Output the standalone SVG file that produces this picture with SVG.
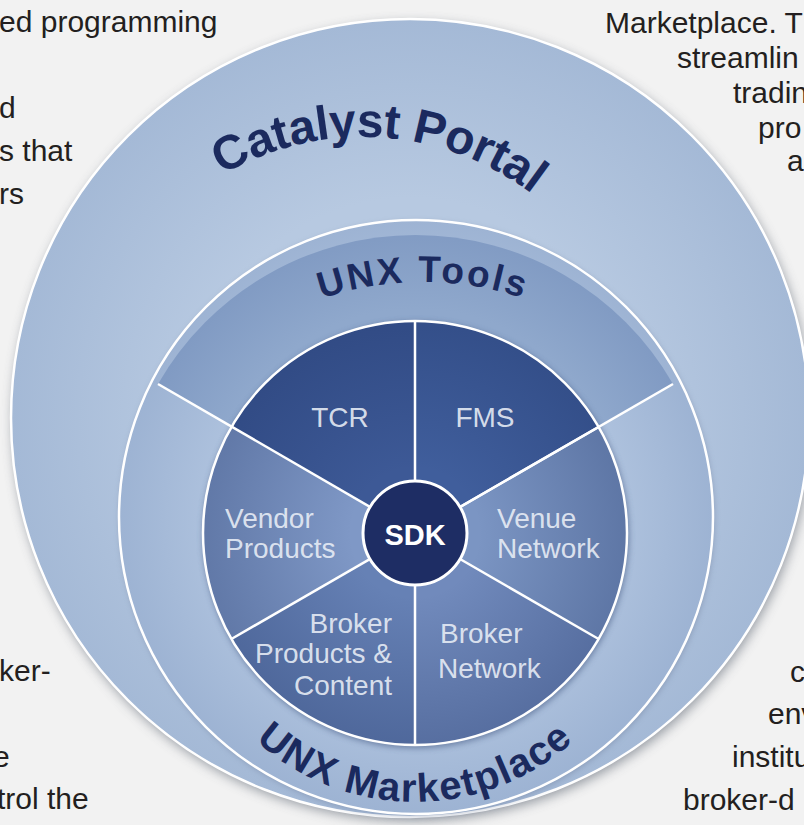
<svg xmlns="http://www.w3.org/2000/svg" width="804" height="825" viewBox="0 0 804 825">
<defs>
<style>
.body{font-family:"Liberation Sans",Arial,sans-serif;font-size:30px;fill:#231f20}
.lbl{font-family:"Liberation Sans",Arial,sans-serif;font-size:28px;fill:#e9eef6;fill-opacity:0.9}
.arc{font-family:"Liberation Sans",Arial,sans-serif;font-weight:bold;fill:#1b2a5e}
.sep{stroke:#ffffff;stroke-width:2.5;fill:none}
.edge{stroke:#ffffff;stroke-width:2.5}
</style>
<filter id="blur" x="-20%" y="-20%" width="140%" height="140%"><feGaussianBlur stdDeviation="6"/></filter>
<filter id="blur2" x="-20%" y="-20%" width="140%" height="140%"><feGaussianBlur stdDeviation="3"/></filter>
<radialGradient id="gOuter" cx="410" cy="418" r="399" gradientUnits="userSpaceOnUse">
<stop offset="0.55" stop-color="#b7c9e1"/><stop offset="1" stop-color="#a4b9d6"/></radialGradient>
<radialGradient id="gMid" cx="416" cy="517" r="297" gradientUnits="userSpaceOnUse">
<stop offset="0.7" stop-color="#adc1dd"/><stop offset="1" stop-color="#9db3d3"/></radialGradient>
<radialGradient id="gTools" cx="416" cy="517" r="297" gradientUnits="userSpaceOnUse">
<stop offset="0.7" stop-color="#8fa8cc"/><stop offset="1" stop-color="#7f99c2"/></radialGradient>
<radialGradient id="gRim" cx="415" cy="533" r="212" gradientUnits="userSpaceOnUse">
<stop offset="0.3" stop-color="#14285a" stop-opacity="0"/><stop offset="1" stop-color="#14285a" stop-opacity="0.28"/></radialGradient>
<path id="pCP" d="M222.2,175.1 A279,279 0 0 1 604.6,276.5"/>
<path id="pUT" d="M220.5,355.7 A315,315 0 0 1 625.5,355.7"/>
<path id="pUM" d="M209,683 A238,238 0 0 0 621,683"/>
</defs>
<rect x="0" y="0" width="804" height="825" fill="#f2f2f2"/>

<g id="text-left">
<text class="body" x="-1" y="32">ed programming</text>
<text class="body" x="-1" y="118">d</text>
<text class="body" x="-1" y="161">s that</text>
<text class="body" x="-1" y="204">rs</text>
<text class="body" x="-1" y="681">ker-</text>
<text class="body" x="-7" y="767">e</text>
<text class="body" x="-3" y="809">trol the</text>
</g>
<g id="text-right">
<text class="body" x="605" y="33">Marketplace. T</text>
<text class="body" x="677" y="68">streamlin</text>
<text class="body" x="733" y="103">tradin</text>
<text class="body" x="758" y="138">pro</text>
<text class="body" x="787" y="171">a</text>
<text class="body" x="790" y="682">c</text>
<text class="body" x="768" y="724">env</text>
<text class="body" x="732" y="767">institu</text>
<text class="body" x="683" y="810">broker-d</text>
</g>

<g id="catalyst-portal">
<circle cx="412" cy="422" r="399" fill="#7c828c" filter="url(#blur)" opacity="0.8"/>
<circle cx="410" cy="418" r="399" fill="url(#gOuter)" class="edge"/>
<text class="arc" font-size="48" letter-spacing="-0.5"><textPath href="#pCP">Catalyst Portal</textPath></text>
</g>

<g id="unx-marketplace">
<circle cx="417" cy="519" r="297" fill="#6f7f9c" filter="url(#blur2)" opacity="0.55"/>
<circle cx="416" cy="517" r="297" fill="url(#gMid)" class="edge"/>
<text class="arc" font-size="40" letter-spacing="1.5"><textPath href="#pUM" startOffset="50%" text-anchor="middle">UNX Marketplace</textPath></text>
</g>

<g id="unx-tools">
<path d="M158,384 A297,297 0 0 1 673,384 L415,533 Z" fill="url(#gTools)"/>
<text class="arc" font-size="37" letter-spacing="2.5"><textPath href="#pUT" startOffset="50%" text-anchor="middle">UNX Tools</textPath></text>
</g>

<g id="pie-shadow">
<circle cx="416" cy="535" r="213" fill="#40557f" filter="url(#blur2)" opacity="0.6"/>
</g>

<g id="tcr">
<path d="M415,533 L231.4,427 A212,212 0 0 1 415,321 Z" fill="#3d5996"/>
</g>
<g id="fms">
<path d="M415,533 L415,321 A212,212 0 0 1 598.6,427 Z" fill="#405e9c"/>
</g>
<g id="venue-network">
<path d="M415,533 L598.6,427 A212,212 0 0 1 598.6,639 Z" fill="#7b95c3"/>
</g>
<g id="broker-network">
<path d="M415,533 L598.6,639 A212,212 0 0 1 415,745 Z" fill="#718abc"/>
</g>
<g id="broker-products">
<path d="M415,533 L415,745 A212,212 0 0 1 231.4,639 Z" fill="#6681b5"/>
</g>
<g id="vendor-products">
<path d="M415,533 L231.4,639 A212,212 0 0 1 231.4,427 Z" fill="#7f98c6"/>
</g>
<circle cx="415" cy="533" r="212" fill="url(#gRim)"/>

<g id="connectors">
<circle cx="415" cy="533" r="212" class="sep"/>
<line class="sep" x1="158" y1="384" x2="415" y2="533"/>
<line class="sep" x1="673" y1="384" x2="415" y2="533"/>
<line class="sep" x1="415" y1="321" x2="415" y2="745"/>
<line class="sep" x1="231.4" y1="639" x2="598.6" y2="427"/>
<line class="sep" x1="598.6" y1="639" x2="415" y2="533"/>
</g>

<g id="labels">
<text class="lbl" x="340" y="427" text-anchor="middle">TCR</text>
<text class="lbl" x="485" y="427" text-anchor="middle">FMS</text>
<text class="lbl" x="225" y="528">Vendor</text>
<text class="lbl" x="225" y="558">Products</text>
<text class="lbl" x="497" y="528">Venue</text>
<text class="lbl" x="497" y="558">Network</text>
<text class="lbl" x="392" y="633" text-anchor="end" font-size="24">Broker</text>
<text class="lbl" x="392" y="663" text-anchor="end" font-size="24">Products &amp;</text>
<text class="lbl" x="392" y="695" text-anchor="end" font-size="24">Content</text>
<text class="lbl" x="440" y="643" font-size="27">Broker</text>
<text class="lbl" x="438" y="678" font-size="27">Network</text>
</g>

<g id="sdk">
<circle cx="415" cy="533" r="52" fill="#1e2d64" stroke="#ffffff" stroke-width="3"/>
<text x="415" y="545" text-anchor="middle" font-family="Liberation Sans, Arial, sans-serif" font-weight="bold" font-size="29" fill="#ffffff">SDK</text>
</g>
</svg>
